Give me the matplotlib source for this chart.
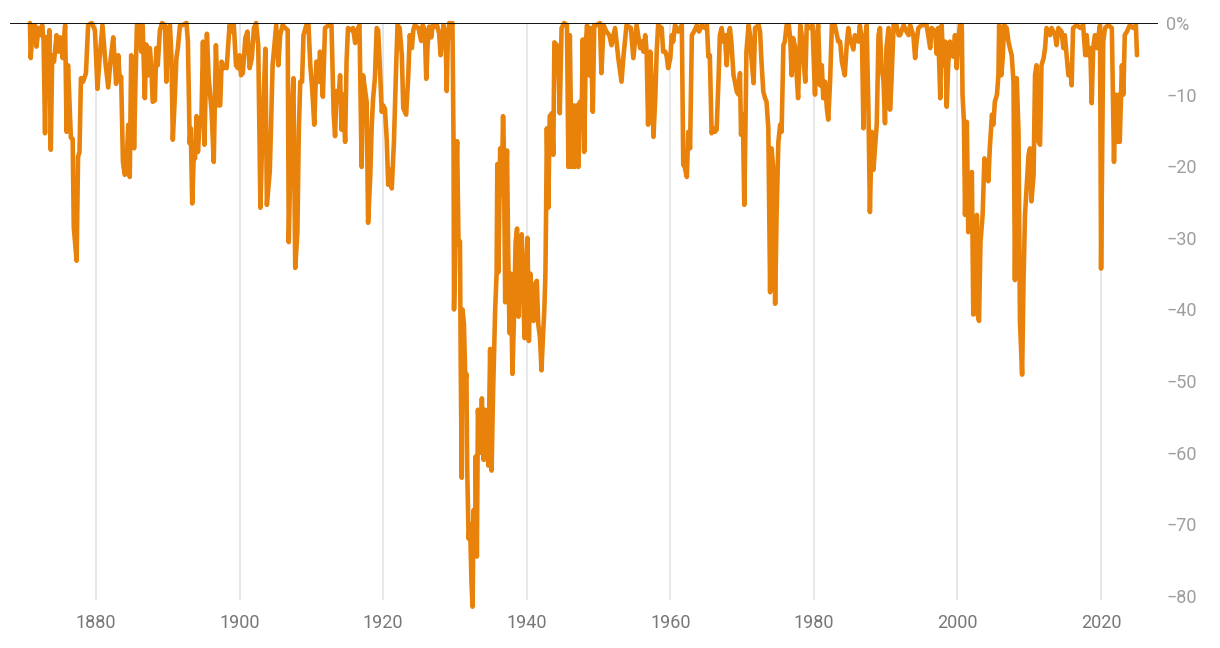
import numpy as np
import matplotlib.pyplot as plt

plt.rcParams['font.family'] = ['Roboto', 'DejaVu Sans']

# drawdown from previous peak (%)
years_1870s_90s = [
    1870.8, 1870.9, 1871.2, 1871.4, 1871.5, 1871.7, 1872.0, 1872.3, 1872.5, 1872.7,
    1872.9, 1873.1, 1873.35, 1873.5, 1873.7, 1873.9, 1874.15, 1874.5, 1874.75, 1875.0,
    1875.35, 1875.7, 1875.9, 1876.1, 1876.5, 1876.75, 1876.9, 1877.3, 1877.5, 1877.7,
    1877.9, 1878.2, 1878.6, 1878.9, 1879.4, 1879.85, 1880.2, 1880.5, 1880.9, 1881.3,
    1881.7, 1882.0, 1882.4, 1882.8, 1883.1, 1883.3, 1883.5, 1883.75, 1884.0, 1884.2,
    1884.5, 1884.7, 1884.9, 1885.2, 1885.3, 1885.5, 1885.7, 1886.0, 1886.3, 1886.5,
    1886.8, 1887.0, 1887.25, 1887.5, 1887.7, 1887.9, 1888.2, 1888.4, 1888.6, 1888.9,
    1889.2, 1889.6, 1889.8, 1890.0, 1890.3, 1890.5, 1890.7, 1890.95, 1891.2, 1891.4,
    1891.7, 1892.1, 1892.6, 1892.8, 1893.05, 1893.2, 1893.4, 1893.6, 1893.8, 1894.0,
    1894.2, 1894.4, 1894.7, 1894.9, 1895.1, 1895.45, 1895.7, 1896.1, 1896.4, 1896.7,
    1897.0, 1897.3, 1897.5, 1897.8, 1898.0, 1898.2, 1898.6, 1898.9, 1899.2, 1899.5,
    1899.75]
dd_1870s_90s = [
    0, -4.9, -0.5, -2.0, -0.3, -3.3, -0.7, -1.7, -0.3, -2.6,
    -15.4, -2.0, -5.4, -1.0, -17.7, -4.5, -5.4, -1.7, -4.0, -2.0,
    -4.9, -0.3, -15.2, -5.9, -16.0, -16.2, -28.5, -33.2, -18.7, -18.0,
    -7.7, -8.2, -7.0, -0.3, 0, -1.0, -9.2, -4.9, -0.3, -5.4,
    -9.0, -5.4, -2.0, -8.5, -4.5, -8.0, -7.5, -19.4, -21.2, -20.8,
    -14.2, -21.5, -4.5, -10.0, -17.5, -8.0, -0.3, -0.3, -4.0, -0.3,
    -10.5, -3.0, -7.3, -3.5, -6.0, -11.0, -10.8, -3.5, -5.9, -1.0,
    0, -0.3, -8.2, -2.6, -0.3, -4.5, -16.3, -11.0, -4.9, -3.5,
    -0.3, -0.3, 0, -2.6, -16.8, -14.7, -25.2, -19.0, -18.9, -13.0,
    -18.0, -14.7, -12.8, -2.6, -17.0, -1.5, -7.7, -12.4, -19.4, -3.1,
    -11.5, -11.5, -5.4, -6.3, -5.9, -6.3, -0.3, -1.2, -0.3, -5.9,
    -6.3]

years_1900_1929 = [
    1900.0, 1900.2, 1900.45, 1900.8, 1901.1, 1901.4, 1901.7, 1902.0, 1902.3, 1902.6,
    1902.9, 1903.2, 1903.6, 1903.8, 1904.2, 1904.35, 1904.6, 1904.9, 1905.1, 1905.4,
    1905.65, 1906.0, 1906.35, 1906.7, 1906.85, 1907.15, 1907.5, 1907.75, 1908.05, 1908.25,
    1908.45, 1908.7, 1908.9, 1909.3, 1909.6, 1909.85, 1910.1, 1910.4, 1910.7, 1911.0,
    1911.2, 1911.6, 1911.9, 1912.4, 1912.8, 1913.1, 1913.3, 1913.5, 1913.75, 1914.0,
    1914.2, 1914.45, 1914.7, 1914.9, 1915.1, 1915.6, 1915.8, 1916.1, 1916.3, 1916.7,
    1917.0, 1917.2, 1917.7, 1917.9, 1918.2, 1918.4, 1918.6, 1918.85, 1919.1, 1919.3,
    1919.55, 1919.8, 1920.0, 1920.25, 1920.5, 1920.7, 1920.95, 1921.2, 1921.5, 1921.8,
    1922.0, 1922.3, 1922.6, 1922.8, 1923.2, 1923.5, 1923.7, 1924.0, 1924.2, 1924.4,
    1924.9, 1925.3, 1925.5, 1925.8, 1926.0, 1926.2, 1926.4, 1926.7, 1926.9, 1927.2,
    1927.5, 1927.8, 1928.0, 1928.2, 1928.4, 1928.7, 1928.85, 1929.0, 1929.2, 1929.5]
dd_1900_1929 = [
    -4.5, -7.3, -7.0, -2.1, -1.2, -6.3, -4.9, -0.7, 0, -3.1,
    -25.8, -14.3, -3.6, -25.4, -20.8, -15.5, -5.9, -2.6, -0.3, -5.9,
    -1.7, -0.3, -0.7, -1.0, -30.6, -15.4, -7.7, -34.2, -29.2, -15.0,
    -8.2, -8.2, -1.7, -0.3, -0.3, -5.9, -9.0, -14.2, -5.4, -8.2,
    -4.0, -10.3, -0.7, -0.3, -0.3, -12.6, -15.8, -9.5, -11.0, -7.3,
    -14.9, -10.0, -16.6, -5.4, -0.7, -1.0, -0.7, -2.8, -1.2, -0.3,
    -20.1, -7.3, -11.0, -27.9, -21.4, -14.5, -10.5, -7.7, -0.7, -1.0,
    -6.3, -12.4, -11.5, -12.0, -16.3, -22.6, -20.5, -23.1, -16.6, -6.3,
    -0.3, -0.7, -4.5, -11.9, -12.8, -7.3, -1.7, -3.5, -1.0, -0.3,
    -0.7, -2.5, -0.3, -1.0, -7.8, -3.0, -0.5, -2.0, -0.3, -0.5,
    -0.3, -1.5, -4.5, -2.5, -0.3, -2.0, -9.5, -2.5, 0, -0.3]

years_1929_1945 = [
    1929.65, 1929.8, 1929.87, 1930.0, 1930.15, 1930.3, 1930.5, 1930.7, 1930.8, 1930.95,
    1931.05, 1931.25, 1931.45, 1931.6, 1931.7, 1931.9, 1932.1, 1932.3, 1932.45, 1932.6,
    1932.8, 1932.9, 1933.05, 1933.2, 1933.5, 1933.75, 1934.0, 1934.2, 1934.45, 1934.65,
    1934.9, 1935.1, 1935.3, 1935.6, 1935.8, 1935.9, 1936.05, 1936.3, 1936.5, 1936.7,
    1936.8, 1937.0, 1937.1, 1937.25, 1937.4, 1937.6, 1937.8, 1938.0, 1938.2, 1938.45,
    1938.65, 1938.85, 1939.05, 1939.3, 1939.5, 1939.7, 1939.9, 1940.1, 1940.3, 1940.5,
    1940.7, 1940.95, 1941.15, 1941.4, 1941.6, 1941.85, 1942.05, 1942.25, 1942.45, 1942.6,
    1942.7, 1942.8, 1943.0, 1943.2, 1943.5, 1943.7, 1943.85, 1944.2, 1944.4, 1944.6,
    1944.85, 1945.2]
dd_1929_1945 = [
    0, -16.5, -40.0, -34.0, -22.0, -16.5, -31.0, -30.5, -47.5, -63.5,
    -40.0, -42.0, -50.0, -49.0, -62.0, -72.0, -70.0, -78.0, -81.5, -68.0,
    -73.5, -60.5, -74.5, -54.0, -60.0, -52.4, -61.0, -54.0, -58.0, -61.8,
    -45.5, -62.5, -52.0, -40.0, -35.0, -19.7, -34.8, -17.5, -24.0, -13.0,
    -17.0, -39.0, -22.0, -17.8, -31.0, -43.3, -35.0, -49.0, -42.0, -30.6,
    -28.7, -41.0, -31.0, -29.5, -38.0, -44.0, -35.0, -30.0, -44.4, -35.0,
    -38.0, -41.6, -36.5, -36.0, -42.0, -44.0, -48.5, -44.0, -40.0, -35.0,
    -26.0, -14.7, -25.8, -13.0, -12.6, -18.4, -2.7, -3.1, -5.4, -12.6,
    -0.7, 0]

years_1945_1979 = [
    1945.6, 1945.8, 1946.0, 1946.25, 1946.5, 1946.7, 1946.95, 1947.2, 1947.4, 1947.65,
    1947.8, 1948.0, 1948.25, 1948.4, 1948.7, 1948.9, 1949.2, 1949.4, 1949.75, 1950.2,
    1950.4, 1950.7, 1951.1, 1951.5, 1951.8, 1952.3, 1952.75, 1953.2, 1953.45, 1953.9,
    1954.5, 1954.85, 1955.3, 1955.8, 1956.0, 1956.25, 1956.5, 1956.7, 1956.9, 1957.2,
    1957.4, 1957.65, 1957.9, 1958.1, 1958.3, 1958.8, 1959.0, 1959.3, 1959.5, 1959.7,
    1960.0, 1960.2, 1960.4, 1960.65, 1961.1, 1961.6, 1961.8, 1962.0, 1962.3, 1962.5,
    1962.75, 1963.0, 1963.3, 1963.7, 1964.0, 1964.4, 1964.8, 1965.1, 1965.3, 1965.5,
    1965.75, 1966.0, 1966.2, 1966.45, 1966.7, 1966.9, 1967.15, 1967.4, 1967.6, 1967.85,
    1968.1, 1968.3, 1968.5, 1968.8, 1969.0, 1969.25, 1969.5, 1969.7, 1969.85, 1970.1,
    1970.3, 1970.45, 1970.6, 1970.9, 1971.1, 1971.3, 1971.6, 1971.8, 1972.3, 1972.5,
    1972.7, 1972.95, 1973.2, 1973.4, 1973.65, 1973.9, 1974.1, 1974.35, 1974.6, 1974.8,
    1975.05, 1975.3, 1975.5, 1975.75, 1975.95, 1976.2, 1976.5, 1976.7, 1976.9, 1977.1,
    1977.4, 1977.6, 1977.8, 1978.1, 1978.3, 1978.5, 1978.8, 1979.0, 1979.45, 1979.8]
dd_1945_1979 = [
    -0.3, -20.1, -1.7, -20.1, -11.5, -20.1, -11.5, -20.1, -11.0, -13.3,
    -2.3, -18.0, -2.6, -0.3, -7.3, -0.7, -12.4, -0.3, -0.3, 0,
    -7.0, -0.3, -1.2, -1.7, -3.1, -0.7, -4.9, -8.2, -4.9, -0.3,
    -0.7, -4.9, -0.3, -3.5, -2.6, -4.0, -1.7, -4.0, -14.2, -4.0,
    -8.2, -15.9, -10.5, -4.0, -0.3, -0.7, -4.0, -4.0, -4.7, -6.3,
    -4.9, -1.7, -2.6, -0.3, -1.2, -0.3, -19.8, -20.1, -21.5, -15.2,
    -17.5, -1.7, -1.2, -0.3, -1.2, -0.3, -0.7, -0.3, -4.7, -4.5,
    -15.4, -14.7, -15.2, -14.9, -8.2, -1.7, -0.7, -2.6, -1.7, -5.9,
    -1.7, -0.7, -2.6, -7.3, -8.2, -9.6, -10.0, -7.0, -15.6, -12.8,
    -25.4, -15.6, -4.0, -0.3, -1.7, -4.9, -8.4, -0.7, -0.3, -1.2,
    -5.4, -9.6, -10.5, -11.0, -14.7, -37.6, -17.5, -20.5, -39.2, -26.8,
    -16.6, -14.2, -15.2, -3.1, -2.6, -0.3, -0.3, -2.1, -7.3, -2.1,
    -3.5, -7.3, -10.5, -0.3, -1.7, -4.5, -8.2, -0.3, -0.7, -0.3]

years_1980_2025 = [
    1980.15, 1980.4, 1980.6, 1980.85, 1981.1, 1981.3, 1981.55, 1981.8, 1982.0, 1982.25,
    1982.5, 1982.9, 1983.4, 1983.65, 1983.9, 1984.3, 1984.6, 1984.8, 1985.0, 1985.5,
    1985.7, 1986.2, 1986.4, 1986.7, 1986.9, 1987.1, 1987.35, 1987.6, 1987.8, 1988.05,
    1988.3, 1988.5, 1988.75, 1989.0, 1989.2, 1989.4, 1989.7, 1989.9, 1990.1, 1990.4,
    1990.6, 1990.8, 1991.1, 1991.5, 1991.8, 1992.0, 1992.5, 1992.9, 1993.2, 1993.4,
    1993.85, 1994.1, 1994.3, 1994.55, 1995.0, 1995.7, 1996.2, 1996.4, 1996.9, 1997.1,
    1997.3, 1997.6, 1997.8, 1998.0, 1998.3, 1998.5, 1998.7, 1998.95, 1999.2, 1999.4,
    1999.65, 1999.9, 2000.1, 2000.35, 2000.6, 2000.7, 2000.9, 2001.05, 2001.3, 2001.5,
    2001.75, 2002.0, 2002.2, 2002.35, 2002.5, 2002.7, 2002.8, 2003.0, 2003.2, 2003.5,
    2003.75, 2004.1, 2004.3, 2004.5, 2004.8, 2005.0, 2005.2, 2005.5, 2005.7, 2005.8,
    2006.1, 2006.3, 2006.5, 2006.85, 2007.1, 2007.3, 2007.55, 2007.8, 2008.0, 2008.25,
    2008.5, 2008.7, 2009.0, 2009.2, 2009.4, 2009.6, 2009.9, 2010.1, 2010.3, 2010.6,
    2010.8, 2011.0, 2011.3, 2011.5, 2011.7, 2012.0, 2012.2, 2012.4, 2012.9, 2013.1,
    2013.6, 2013.8, 2014.05, 2014.5, 2014.75, 2014.95, 2015.45, 2015.7, 2015.9, 2016.1,
    2016.6, 2017.1, 2017.5, 2017.8, 2018.0, 2018.2, 2018.5, 2018.7, 2018.9, 2019.15,
    2019.4, 2019.6, 2019.85, 2020.0, 2020.2, 2020.3, 2020.55, 2021.0, 2021.5, 2021.8,
    2022.0, 2022.3, 2022.5, 2022.6, 2022.9, 2023.1, 2023.3, 2023.6, 2024.0, 2024.5,
    2024.85, 2025.0]
dd_1980_2025 = [
    -10.0, -1.7, -0.3, -8.7, -5.9, -10.5, -8.2, -11.9, -13.5, -8.2,
    -0.3, -0.3, -2.6, -2.6, -5.4, -7.3, -2.6, -0.7, -2.1, -3.7,
    -1.7, -2.6, -0.3, -2.6, -14.7, -2.6, -0.3, -12.4, -26.4, -15.2,
    -20.5, -17.5, -14.2, -1.7, -0.7, -5.9, -8.2, -14.0, -3.5, -0.7,
    -12.1, -8.2, -0.3, -0.3, -1.7, -1.7, -0.3, -1.2, -1.7, -0.3,
    -1.7, -4.9, -2.6, -0.7, -0.3, -0.3, -3.5, -0.7, -1.2, -4.3,
    -0.7, -10.5, -0.3, -5.9, -2.6, -11.7, -5.9, -2.6, -4.0, -4.7,
    -1.7, -6.3, -2.6, -0.3, -0.3, -10.0, -13.8, -26.8, -13.8, -29.2,
    -26.8, -20.8, -40.7, -32.0, -39.7, -26.8, -40.7, -41.6, -30.6, -26.8,
    -18.9, -19.8, -22.1, -17.5, -12.8, -14.2, -11.0, -10.0, -7.3, -0.3,
    -7.3, -4.9, -0.3, -0.7, -2.6, -3.5, -4.5, -8.2, -35.9, -7.7,
    -15.2, -41.6, -49.1, -35.9, -26.8, -23.5, -18.4, -17.5, -24.9, -21.2,
    -7.3, -5.9, -16.6, -17.0, -5.9, -4.9, -3.5, -0.7, -1.7, -0.7,
    -1.7, -3.1, -0.7, -1.2, -3.5, -1.7, -7.3, -5.9, -8.7, -0.7,
    -0.3, -0.7, -0.3, -4.5, -1.7, -4.5, -3.5, -11.2, -3.5, -1.7,
    -3.5, -2.1, -0.3, -34.3, -12.8, -2.6, -0.7, -0.3, -0.7, -19.4,
    -10.0, -16.6, -10.0, -16.6, -5.9, -10.0, -1.7, -1.2, -0.3, -0.7,
    -0.3, -4.5]

years = np.concatenate([years_1870s_90s, years_1900_1929, years_1929_1945,
                        years_1945_1979, years_1980_2025])
drawdown = np.concatenate([dd_1870s_90s, dd_1900_1929, dd_1929_1945,
                           dd_1945_1979, dd_1980_2025])

decades = list(range(1880, 2021, 20))
y_ticks = list(range(0, -81, -10))
y_labels = ['0%'] + ['\u2212' + str(-v) for v in y_ticks[1:]]

fig = plt.figure(figsize=(12.2, 6.48), dpi=100)
ax = fig.add_axes([10 / 1220, 37.7 / 648, 1148 / 1220, 587.3 / 648])

ax.vlines(decades, -80.6, 0, color='#e3e3e3', lw=1.2, zorder=0)
ax.plot(years, drawdown, color='#e8820a', lw=3.3, solid_joinstyle='round',
        solid_capstyle='round', clip_on=False, zorder=2)
ax.axhline(0, color='#111111', lw=1.4, zorder=3)

ax.set_xlim(1868.02, 2027.93)
ax.set_ylim(-82, 0)

for s in ax.spines.values():
    s.set_visible(False)

ax.yaxis.tick_right()
ax.set_yticks(y_ticks)
ax.set_yticklabels(y_labels)
ax.set_xticks(decades)
ax.set_xticklabels([str(d) for d in decades])
ax.tick_params(axis='y', length=0, pad=6, labelsize=13, labelcolor='#9e9e9e')
ax.tick_params(axis='x', length=0, pad=3, labelsize=13, labelcolor='#777777')

fig.savefig('out.png', dpi=100)
